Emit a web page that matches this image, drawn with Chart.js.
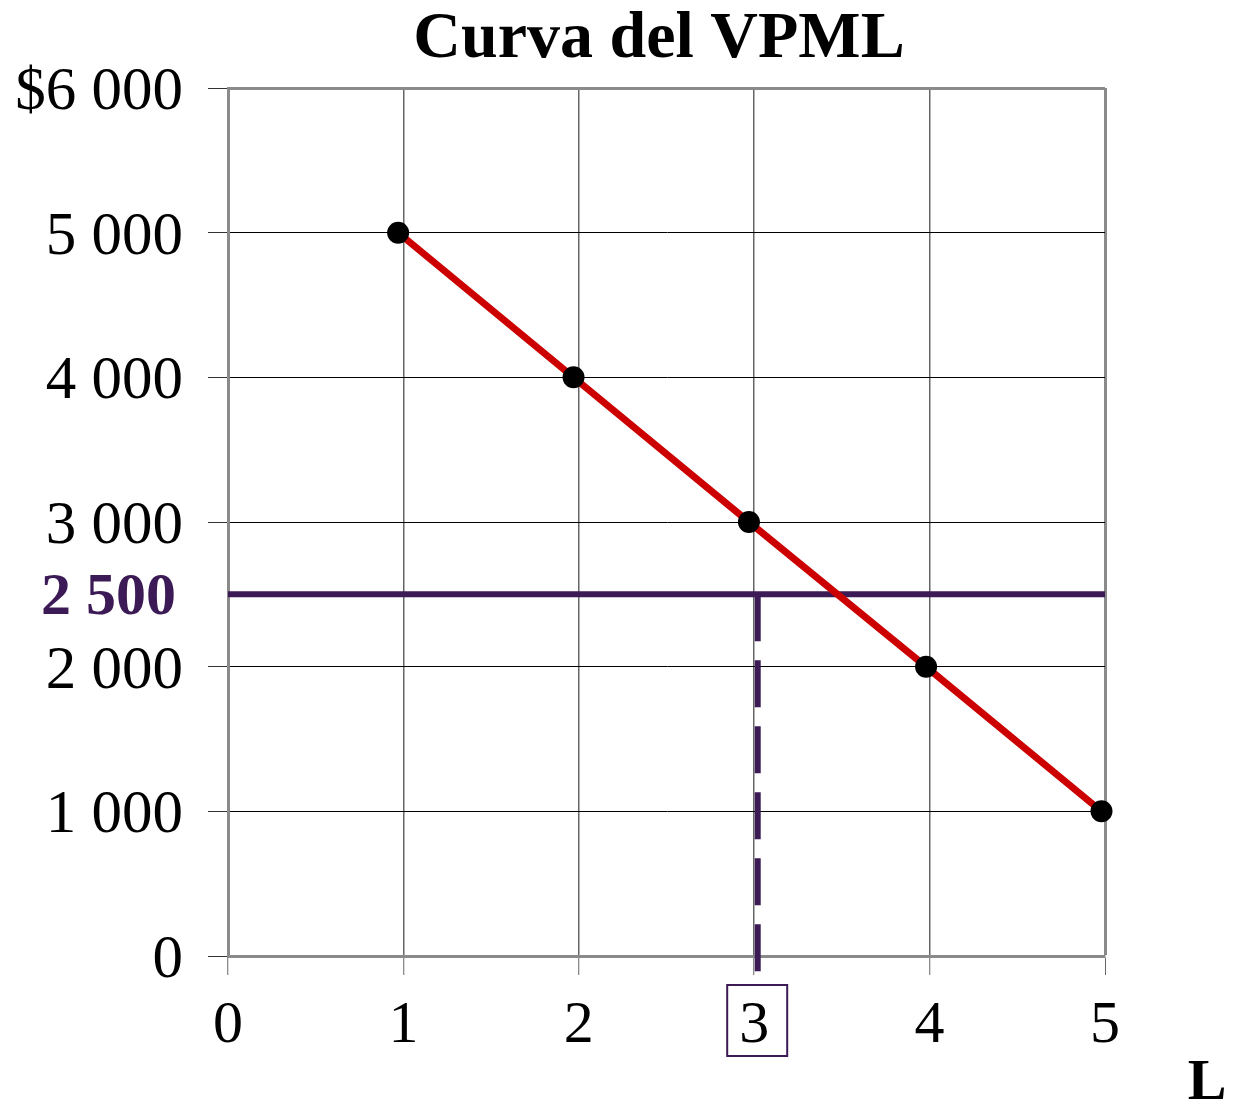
<!DOCTYPE html>
<html><head><meta charset="utf-8">
<script src="https://cdn.jsdelivr.net/npm/chart.js@4"></script>
<style>html,body{margin:0;padding:0;background:#fff}canvas{display:block}</style>
</head><body>
<canvas id="c" width="1237" height="1104"></canvas>
<script>
// ---- data ----
const laborUnits = [0.97, 1.97, 2.97, 3.98, 4.98];
const vpmlValues = [5000, 4000, 3000, 2000, 1000];
const xTickValues = [0, 1, 2, 3, 4, 5];
const xTickLabels = ['0', '1', '2', '3', '4', '5'];
const yTickValues = [0, 1000, 2000, 3000, 4000, 5000, 6000];
const yTickLabels = ['0', '1 000', '2 000', '3 000', '4 000', '5 000', '$6 000'];
const wageLevel = 2500;
const wageLabel = '2 500';
const chosenLabor = 3.02;
const chosenLaborTick = 3;
const dashBottom = -130;
const titleText = 'Curva del VPML';
const xAxisName = 'L';

const SERIF = "'Liberation Serif','Times New Roman',serif";
const PURPLE = '#3b1a55';

const extras = {
  id: 'extras',
  afterDraw(chart) {
    const ctx = chart.ctx, xs = chart.scales.x, ys = chart.scales.y;
    ctx.save();
    // title
    ctx.fillStyle = '#000';
    ctx.font = "bold 66px " + SERIF;
    ctx.textAlign = 'center';
    ctx.textBaseline = 'alphabetic';
    ctx.fillText(titleText, 659, 57);
    // wage label
    ctx.fillStyle = PURPLE;
    ctx.font = "bold 60px " + SERIF;
    ctx.textAlign = 'right';
    ctx.textBaseline = 'middle';
    ctx.fillText(wageLabel, 176, ys.getPixelForValue(wageLevel) + 4);
    // box around chosen tick
    const bx = xs.getPixelForValue(chosenLaborTick) + 3;
    ctx.strokeStyle = PURPLE;
    ctx.lineWidth = 2;
    ctx.strokeRect(bx - 30, 985, 60, 71);
    // axis name
    ctx.fillStyle = '#000';
    ctx.font = "bold 58px " + SERIF;
    ctx.textAlign = 'center';
    ctx.textBaseline = 'alphabetic';
    ctx.fillText(xAxisName, 1207, 1099);
    ctx.restore();
  }
};

new Chart(document.getElementById('c'), {
  type: 'scatter',
  data: {
    datasets: [
      {
        data: [{x: xTickValues[0], y: wageLevel}, {x: xTickValues[xTickValues.length - 1], y: wageLevel}],
        showLine: true, borderColor: PURPLE, borderWidth: 6, pointRadius: 0, order: 3
      },
      {
        data: [{x: chosenLabor, y: wageLevel}, {x: chosenLabor, y: dashBottom}],
        showLine: true, borderColor: PURPLE, borderWidth: 6, borderDash: [47, 19],
        pointRadius: 0, clip: false, order: 2
      },
      {
        data: laborUnits.map((x, i) => ({x, y: vpmlValues[i]})),
        showLine: true, borderColor: '#cc0000', borderWidth: 7,
        pointRadius: 11, pointBackgroundColor: '#000', pointBorderWidth: 0, order: 1, clip: false
      }
    ]
  },
  plugins: [extras],
  options: {
    responsive: false, animation: false,
    layout: {padding: {top: 88, right: 132, left: 0, bottom: 0}},
    plugins: {legend: {display: false}, title: {display: false}, tooltip: {enabled: false}},
    scales: {
      x: {
        type: 'linear', min: 0, max: 5,
        afterFit(s) { s.height = 148; },
        afterBuildTicks(s) { s.ticks = xTickValues.map(v => ({value: v})); },
        ticks: {
          callback: (v) => { const i = xTickValues.indexOf(v); return i >= 0 ? xTickLabels[i] : ''; },
          font: {family: SERIF, size: 60}, color: '#000', padding: 15, maxRotation: 0, autoSkip: false
        },
        grid: {
          color: (c) => (c.tick && c.tick.value === 5) ? '#8a8a8a' : '#666',
          lineWidth: (c) => (c.tick && c.tick.value === 5) ? 3 : 1.5,
          tickLength: 19, tickColor: '#666', tickWidth: 1
        },
        border: {color: '#8a8a8a', width: 3}
      },
      y: {
        type: 'linear', min: 0, max: 6000,
        afterFit(s) { s.width = 228; },
        afterBuildTicks(s) { s.ticks = yTickValues.map(v => ({value: v})); },
        ticks: {
          callback: (v) => { const i = yTickValues.indexOf(v); return i >= 0 ? yTickLabels[i] : ''; },
          font: {family: SERIF, size: 61}, color: '#000', padding: 25, autoSkip: false, labelOffset: 5
        },
        grid: {
          color: (c) => (c.tick && c.tick.value === 6000) ? '#8a8a8a' : '#000',
          lineWidth: (c) => (c.tick && c.tick.value === 6000) ? 3 : 1,
          tickLength: 20, tickColor: '#333', tickWidth: 1
        },
        border: {color: '#8a8a8a', width: 3}
      }
    }
  }
});
</script>
</body></html>
